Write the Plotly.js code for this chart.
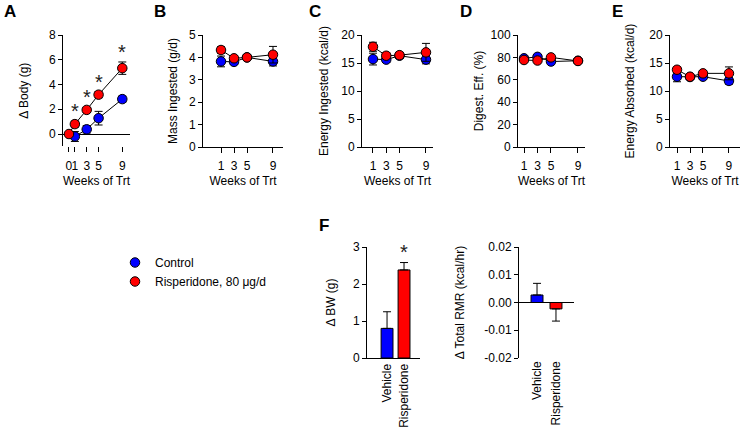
<!DOCTYPE html>
<html>
<head>
<meta charset="utf-8">
<script src="https://cdn.plot.ly/plotly-3.0.1.min.js"></script>
<style>html,body{margin:0;padding:0;background:#fff;}#chart{width:740px;height:431px;}</style>
</head>
<body>
<div id="chart"></div>
<script>
// ---------- DATA ----------
const weeksAll = [1, 3, 5, 9];
const weeksCtrlA = [1, 3, 5, 9];
const weeksRispA = [0, 1, 3, 5, 9];
const tickWeeksA = [0, 1, 3, 5, 9];

const bodyCtrl = [-0.2, 0.38, 1.28, 2.82];
const bodyCtrlErr = [0.4, 0.3, 0.55, 0.25];
const bodyRisp = [0, 0.8, 1.95, 3.18, 5.32];
const bodyRispErr = [0.1, 0.25, 0.2, 0.25, 0.5];
const bodySigWeeks = [1, 3, 5, 9];

const massCtrl = [3.82, 3.8, 4.0, 3.82];
const massCtrlErr = [0.24, 0.1, 0.1, 0.2];
const massRisp = [4.33, 3.96, 4.0, 4.12];
const massRispErr = [0.15, 0.1, 0.1, 0.37];

const energyInCtrl = [15.7, 15.6, 16.3, 15.6];
const energyInCtrlErr = [1.05, 0.5, 0.5, 0.75];
const energyInRisp = [17.9, 16.3, 16.4, 16.9];
const energyInRispErr = [0.8, 0.5, 0.5, 1.6];

const digestCtrl = [79.2, 80.5, 76.3, 77.0];
const digestCtrlErr = [1.5, 1.5, 1.5, 1.5];
const digestRisp = [77.7, 77.2, 80.0, 76.8];
const digestRispErr = [1.5, 1.5, 1.5, 1.5];

const energyAbsCtrl = [12.55, 12.5, 12.55, 11.8];
const energyAbsCtrlErr = [0.9, 0.4, 0.4, 0.6];
const energyAbsRisp = [13.8, 12.55, 13.15, 13.15];
const energyAbsRispErr = [0.5, 0.4, 0.4, 1.15];

const groups = ['Vehicle', 'Risperidone'];
const bwChange = [0.8, 2.38];
const bwChangeErr = [0.45, 0.2];
const rmrChange = [0.0027, -0.0023];
const rmrChangeErrUp = [0.0042, 0];
const rmrChangeErrDown = [0, 0.0044];
const rmrTicks = [-0.02, -0.01, 0, 0.01, 0.02];
const rmrTickText = ['-0.02', '-0.01', '0.00', '0.01', '0.02'];

const seriesNames = ['Control', 'Risperidone, 80 \u03bcg/d'];
const colors = ['#0000ff', '#ff0000'];

// ---------- HELPERS ----------
const W = 740, H = 431;
const xd = (a, b) => [a / W, b / W];
const yd = (top, bottom) => [1 - bottom / H, 1 - top / H];
const FONT = 'Liberation Sans, Arial, sans-serif';
const tickFont = {family: FONT, size: 12, color: '#000'};
const titleFont = {family: FONT, size: 12, color: '#000'};

function series(xa, ya, x, y, err, ci, legend) {
  const line = {type: 'scatter', mode: 'lines', x: x, y: y, xaxis: xa, yaxis: ya,
    line: {color: '#000', width: 1}, showlegend: false, hoverinfo: 'skip'};
  const mk = {type: 'scatter', mode: 'markers', x: x, y: y, xaxis: xa, yaxis: ya,
    name: seriesNames[ci], showlegend: legend, legendgroup: 'g' + ci,
    marker: {color: colors[ci], size: 9.5, line: {color: '#000', width: 1}},
    error_y: {type: 'data', array: err, visible: true, color: '#000', thickness: 1, width: 4}};
  return [line, mk];
}

const traces = [];
function panel(xa, ya, xc, yc, ec, xr, yr, er, legend) {
  const c = series(xa, ya, xc, yc, ec, 0, legend);
  const r = series(xa, ya, xr, yr, er, 1, legend);
  traces.push(c[0], r[0], c[1], r[1]);
}
panel('x', 'y', weeksCtrlA, bodyCtrl, bodyCtrlErr, weeksRispA, bodyRisp, bodyRispErr, true);
panel('x2', 'y2', weeksAll, massCtrl, massCtrlErr, weeksAll, massRisp, massRispErr, false);
panel('x3', 'y3', weeksAll, energyInCtrl, energyInCtrlErr, weeksAll, energyInRisp, energyInRispErr, false);
panel('x4', 'y4', weeksAll, digestCtrl, digestCtrlErr, weeksAll, digestRisp, digestRispErr, false);
panel('x5', 'y5', weeksAll, energyAbsCtrl, energyAbsCtrlErr, weeksAll, energyAbsRisp, energyAbsRispErr, false);

traces.push({type: 'bar', x: groups, y: bwChange, xaxis: 'x6', yaxis: 'y6', width: 0.7,
  marker: {color: colors, line: {color: '#000', width: 1}}, showlegend: false,
  error_y: {type: 'data', symmetric: false, array: bwChangeErr, arrayminus: [0, 0], visible: true, color: '#000', thickness: 1, width: 4}});
traces.push({type: 'bar', x: groups, y: rmrChange, xaxis: 'x7', yaxis: 'y7', width: 0.63,
  marker: {color: colors, line: {color: '#000', width: 1}}, showlegend: false,
  error_y: {type: 'data', symmetric: false, array: rmrChangeErrUp, arrayminus: rmrChangeErrDown, visible: true, color: '#000', thickness: 1, width: 4}});

function xax(dom, range, extra) {
  return Object.assign({domain: dom, range: range, showline: true, linecolor: '#000', linewidth: 1,
    ticks: 'outside', ticklen: 5, tickcolor: '#000', tickwidth: 1, tickfont: tickFont, tickangle: 0,
    ticklabelstandoff: 3,
    showgrid: false, zeroline: false, fixedrange: true,
    tickvals: weeksAll, ticktext: weeksAll.map(String),
    title: {text: 'Weeks of Trt', font: titleFont, standoff: 4}}, extra || {});
}
function yax(anchor, dom, range, dtick, title, standoff, extra) {
  return Object.assign({domain: dom, range: range, anchor: anchor, showline: true, linecolor: '#000', linewidth: 1,
    ticks: 'outside', ticklen: 4, tickcolor: '#000', tickwidth: 1, tickfont: tickFont,
    showgrid: false, zeroline: false, dtick: dtick, tick0: 0, fixedrange: true,
    title: {text: title, font: titleFont, standoff: standoff}}, extra || {});
}

const yTop = 35, yBot = 147;
const layout = {
  width: W, height: H, margin: {l: 0, r: 0, t: 0, b: 0},
  paper_bgcolor: '#fff', plot_bgcolor: 'rgba(0,0,0,0)',
  font: {family: FONT, size: 12, color: '#000'},
  showlegend: true,
  legend: {x: 115 / W, y: 1 - 248 / H, xanchor: 'left', yanchor: 'top', font: {family: FONT, size: 12, color: '#000'},
    bgcolor: 'rgba(0,0,0,0)', tracegroupgap: 0, itemwidth: 30},
  xaxis: xax(xd(63, 130), [-1, 10.3], {anchor: 'y', showline: false, tickvals: tickWeeksA, ticktext: tickWeeksA.map(String)}),
  yaxis: yax('x', yd(yTop, 146.4), [-1, 8], 2, '\u0394 Body (g)', 17, {zeroline: true, zerolinecolor: '#000', zerolinewidth: 1}),
  xaxis2: xax(xd(203, 283), [-1.77, 10.54], {anchor: 'y2'}),
  yaxis2: yax('x2', yd(yTop, yBot), [0, 5], 1, 'Mass Ingested (g/d)', 8),
  xaxis3: xax(xd(362, 433), [-0.66, 10.06], {anchor: 'y3'}),
  yaxis3: yax('x3', yd(yTop, yBot), [0, 20], 5, 'Energy Ingested (kcal/d)', 10),
  xaxis4: xax(xd(518, 585), [0.11, 10.04], {anchor: 'y4'}),
  yaxis4: yax('x4', yd(yTop, yBot), [0, 100], 20, 'Digest. Eff. (%)', 4),
  xaxis5: xax(xd(670, 740), [-0.08, 10.7], {anchor: 'y5'}),
  yaxis5: yax('x5', yd(yTop, yBot), [0, 20], 5, 'Energy Absorbed (kcal/d)', 12),
  xaxis6: {domain: xd(367, 420), range: [-1.18, 1.94], anchor: 'y6', type: 'category', showline: true, linecolor: '#000',
    ticks: '', tickangle: -90, tickfont: tickFont, showgrid: false, zeroline: false, fixedrange: true},
  yaxis6: yax('x6', yd(247, 358), [0, 3], 1, '\u0394 BW (g)', 14),
  xaxis7: {domain: xd(519, 574), range: [-0.95, 1.95], anchor: 'y7', type: 'category', showline: false,
    ticks: '', tickangle: -90, tickfont: tickFont, showgrid: false, zeroline: false, fixedrange: true},
  yaxis7: yax('x7', yd(247, 358), [-0.02, 0.02], 0.01, '\u0394 Total RMR (kcal/hr)', 17,
    {tickvals: rmrTicks, ticktext: rmrTickText, zeroline: true, zerolinecolor: '#000', zerolinewidth: 1}),
  annotations: []
};

// panel letters
const letters = [['A', 2, 12], ['B', 152, 12], ['C', 307, 12], ['D', 458, 12], ['E', 610, 12], ['F', 317, 225]];
letters.forEach(l => layout.annotations.push({text: '<b>' + l[0] + '</b>', xref: 'paper', yref: 'paper',
  x: l[1] / W, y: 1 - l[2] / H, xanchor: 'left', yanchor: 'middle', showarrow: false,
  font: {family: FONT, size: 17, color: '#000'}}));

// significance asterisks
bodySigWeeks.forEach(w => {
  const i = weeksRispA.indexOf(w);
  layout.annotations.push({text: '*', xref: 'x', yref: 'y', x: w, y: bodyRisp[i] + bodyRispErr[i],
    xanchor: 'center', yanchor: 'bottom', showarrow: false, yshift: -3,
    font: {family: FONT, size: 20, color: '#222'}});
});
layout.annotations.push({text: '*', xref: 'x6', yref: 'y6', x: groups[1], y: bwChange[1] + bwChangeErr[1],
  xanchor: 'center', yanchor: 'bottom', showarrow: false, yshift: -2,
  font: {family: FONT, size: 20, color: '#222'}});

Plotly.newPlot('chart', traces, layout, {staticPlot: true, displayModeBar: false});
</script>
</body>
</html>
